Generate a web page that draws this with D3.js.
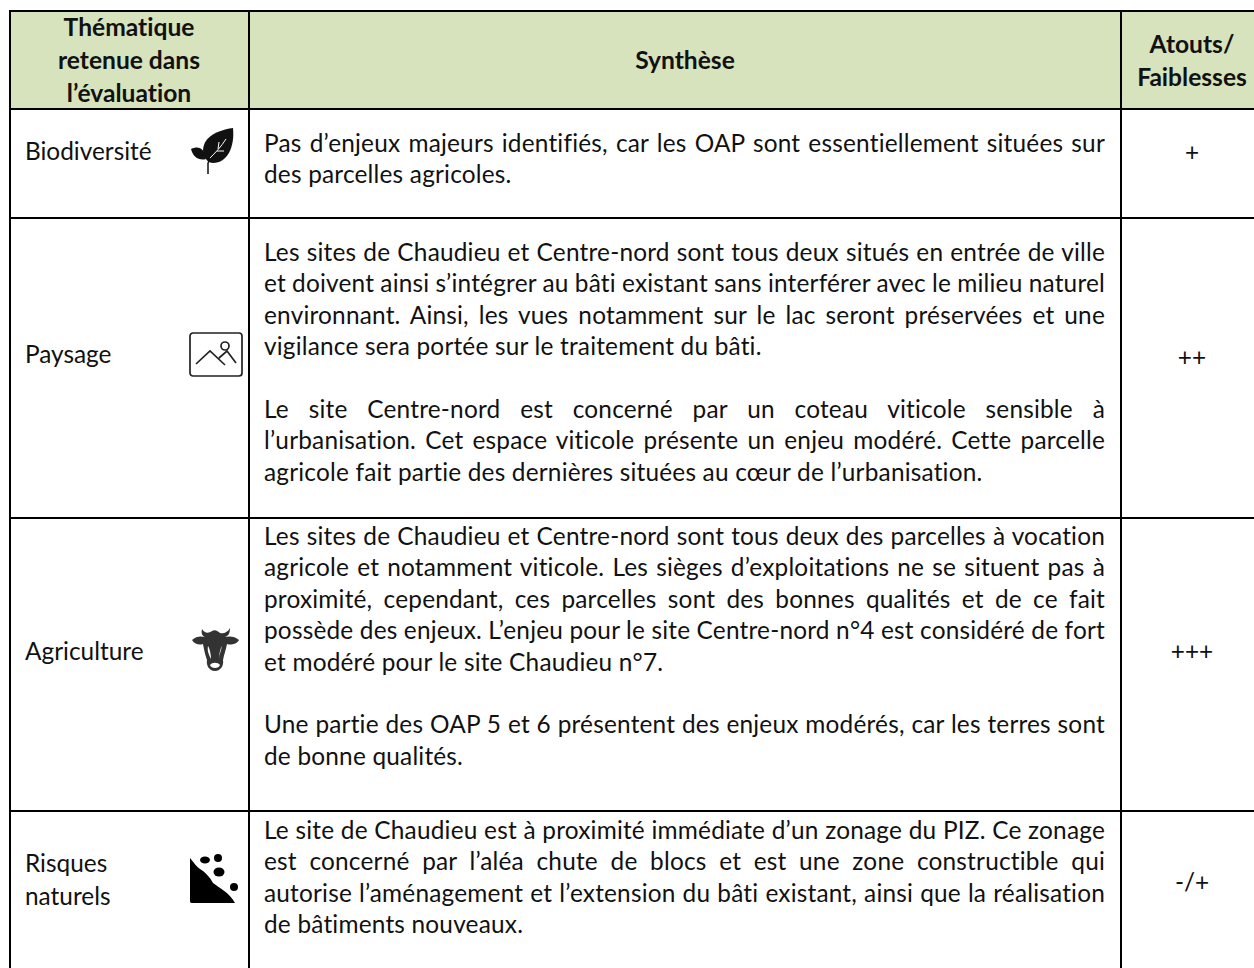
<!DOCTYPE html>
<html>
<head>
<meta charset="utf-8">
<script src="https://cdnjs.cloudflare.com/ajax/libs/d3/7.8.5/d3.min.js"></script>
<style>
  html, body { margin: 0; padding: 0; background: #fff; }
  text { font-family: Lato, "Noto Sans", sans-serif; fill: #111; font-variant-ligatures: none; }
</style>
</head>
<body>
<svg id="chart" width="1254" height="968"></svg>
<script>
// table content
const headers = [['Thématique', 'retenue dans', 'l’évaluation'], ['Synthèse'], ['Atouts/', 'Faiblesses']];
const themes = ['Biodiversité', 'Paysage', 'Agriculture', 'Risques|naturels'];
const ratings = ['+', '++', '+++', '-/+'];

// each entry: line text, justified or not ; '' is a blank line
const biodiversite = [
  ['Pas d’enjeux majeurs identifiés, car les OAP sont essentiellement situées sur', 1],
  ['des parcelles agricoles.', 0],
];
const paysage = [
  ['Les sites de Chaudieu et Centre-nord sont tous deux situés en entrée de ville', 1],
  ['et doivent ainsi s’intégrer au bâti existant sans interférer avec le milieu naturel', 1],
  ['environnant. Ainsi, les vues notamment sur le lac seront préservées et une', 1],
  ['vigilance sera portée sur le traitement du bâti.', 0],
  ['', 0],
  ['Le site Centre-nord est concerné par un coteau viticole sensible à', 1],
  ['l’urbanisation. Cet espace viticole présente un enjeu modéré. Cette parcelle', 1],
  ['agricole fait partie des dernières situées au cœur de l’urbanisation.', 0],
];
const agriculture = [
  ['Les sites de Chaudieu et Centre-nord sont tous deux des parcelles à vocation', 1],
  ['agricole et notamment viticole. Les sièges d’exploitations ne se situent pas à', 1],
  ['proximité, cependant, ces parcelles sont des bonnes qualités et de ce fait', 1],
  ['possède des enjeux. L’enjeu pour le site Centre-nord n°4 est considéré de fort', 1],
  ['et modéré pour le site Chaudieu n°7.', 0],
  ['', 0],
  ['Une partie des OAP 5 et 6 présentent des enjeux modérés, car les terres sont', 1],
  ['de bonne qualités.', 0],
];
const risques = [
  ['Le site de Chaudieu est à proximité immédiate d’un zonage du PIZ. Ce zonage', 1],
  ['est concerné par l’aléa chute de blocs et est une zone constructible qui', 1],
  ['autorise l’aménagement et l’extension du bâti existant, ainsi que la réalisation', 1],
  ['de bâtiments nouveaux.', 0],
];
const syntheses = [biodiversite, paysage, agriculture, risques];

// layout of the table
const columnEdges = [10, 249, 1121, 1254];
const rowEdges = [11, 109, 218, 518, 811, 968];
const headerCenters = [129, 685, 1192];
const themeBaselines = [160, 363, 660, 872];
const ratingBaselines = [161, 366, 660, 891];
const firstBaselines = [152, 261, 545, 839];
const lineStep = 31.4;
const bodySize = 24.4;

const svg = d3.select('#chart');

// header band
svg.append('rect')
  .attr('x', columnEdges[0]).attr('y', rowEdges[0])
  .attr('width', columnEdges[3] - columnEdges[0])
  .attr('height', rowEdges[1] - rowEdges[0])
  .attr('fill', '#d6e3bc');

// header labels
headers.forEach((lines, c) => {
  const top = 69 - (lines.length - 1) * 16.5;
  lines.forEach((line, i) => {
    svg.append('text')
      .attr('x', headerCenters[c]).attr('y', top + i * 33)
      .attr('text-anchor', 'middle')
      .attr('font-size', 24.6).attr('font-weight', 700)
      .text(line);
  });
});

// first column labels, last column ratings
themes.forEach((theme, r) => {
  theme.split('|').forEach((part, i) => {
    svg.append('text')
      .attr('x', 25)
      .attr('y', themeBaselines[r] + i * 33)
      .attr('font-size', bodySize)
      .text(part);
  });
  svg.append('text')
    .attr('x', headerCenters[2])
    .attr('y', ratingBaselines[r])
    .attr('text-anchor', 'middle')
    .attr('font-size', bodySize)
    .text(ratings[r]);
});

// synthese paragraphs, stretched by word spacing to the cell width
const textLeft = 264;
const textRight = 1105;
syntheses.forEach((lines, r) => {
  lines.forEach(([line, justified], i) => {
    if (!line) return;
    const t = svg.append('text')
      .attr('x', textLeft)
      .attr('y', firstBaselines[r] + i * lineStep)
      .attr('font-size', bodySize)
      .attr('letter-spacing', 0.2)
      .text(line);
    if (justified) {
      const gaps = line.split(' ').length - 1;
      const extra = (textRight - textLeft - t.node().getComputedTextLength()) / gaps;
      t.attr('word-spacing', extra);
    }
  });
});

// grid lines
svg.selectAll('line.h').data(rowEdges.slice(0, 5)).enter().append('line')
  .attr('class', 'h')
  .attr('x1', columnEdges[0] - 1).attr('x2', 1254)
  .attr('y1', d => d).attr('y2', d => d)
  .attr('stroke', '#000').attr('stroke-width', 2);
svg.selectAll('line.v').data(columnEdges.slice(0, 3)).enter().append('line')
  .attr('class', 'v')
  .attr('y1', rowEdges[0]).attr('y2', 968)
  .attr('x1', d => d).attr('x2', d => d)
  .attr('stroke', '#000').attr('stroke-width', 2);

// icons
const leaf = svg.append('g').attr('transform', 'translate(191,127)').attr('fill', '#111');
leaf.append('path').attr('d', 'M12 24 C12 12 22 4 42 1 C44 20 36 36 22 36 C18 36 15 33 14 30 Z');
leaf.append('path').attr('d', 'M0 22 C8 18 14 22 15 32 C8 34 2 30 0 22 Z');
leaf.append('path').attr('d', 'M17 47 L17 36 C20 30 26 24 34 14').attr('fill', 'none').attr('stroke', '#111').attr('stroke-width', 1.5);
leaf.append('path').attr('d', 'M19 31 C24 26 30 20 35 12 M26 24 L33 24 M27 22 L28 15').attr('fill', 'none').attr('stroke', '#fff').attr('stroke-width', 1);

const frame = svg.append('g').attr('transform', 'translate(190,333)').attr('fill', 'none').attr('stroke', '#222').attr('stroke-width', 1.7);
frame.append('rect').attr('x', 0).attr('y', 0).attr('width', 52).attr('height', 43).attr('rx', 3);
frame.append('path').attr('d', 'M6 31 L20 18 L35 32 M29 25 L37 18 L46 30');
frame.append('circle').attr('cx', 35).attr('cy', 13).attr('r', 4);

const cow = svg.append('g').attr('transform', 'translate(192,627)').attr('fill', '#333');
cow.append('path').attr('d', 'M10 2 C13 7 17 6 20 4 C23 2 26 4 28 6 C32 7 36 5 38 1 C38 7 36 9 33 10 C37 9 43 9 47 13 C44 18 38 18 35 17 C34 22 32 28 31 33 C32 38 29 44 23 44 C17 44 14 38 15 33 C13 28 12 22 11 17 C8 18 3 18 0 13 C4 9 9 9 13 10 C10 9 9 6 10 2 Z');
cow.append('path').attr('d', 'M16 19 C18 22 19 28 19 32 C17 28 15 24 16 19 Z M30 19 C29 24 27 28 27 32 C27 28 28 22 30 19 Z M18 38 C20 35 26 35 28 38 C27 42 19 42 18 38 Z').attr('fill', '#fff');

const rocks = svg.append('g').attr('transform', 'translate(190,855)').attr('fill', '#000');
rocks.append('path').attr('d', 'M0 3 C4 8 7 12 10 14 C15 17 20 22 23 28 C28 32 40 38 45 48 L2 48 C0 48 0 47 0 45 Z');
rocks.append('ellipse').attr('cx', 15).attr('cy', 5).attr('rx', 5).attr('ry', 3.5);
rocks.append('ellipse').attr('cx', 28).attr('cy', 3).attr('rx', 4).attr('ry', 4);
rocks.append('ellipse').attr('cx', 29).attr('cy', 17).attr('rx', 5.5).attr('ry', 4.5);
rocks.append('ellipse').attr('cx', 44).attr('cy', 32).attr('rx', 4).attr('ry', 4);
</script>
</body>
</html>
